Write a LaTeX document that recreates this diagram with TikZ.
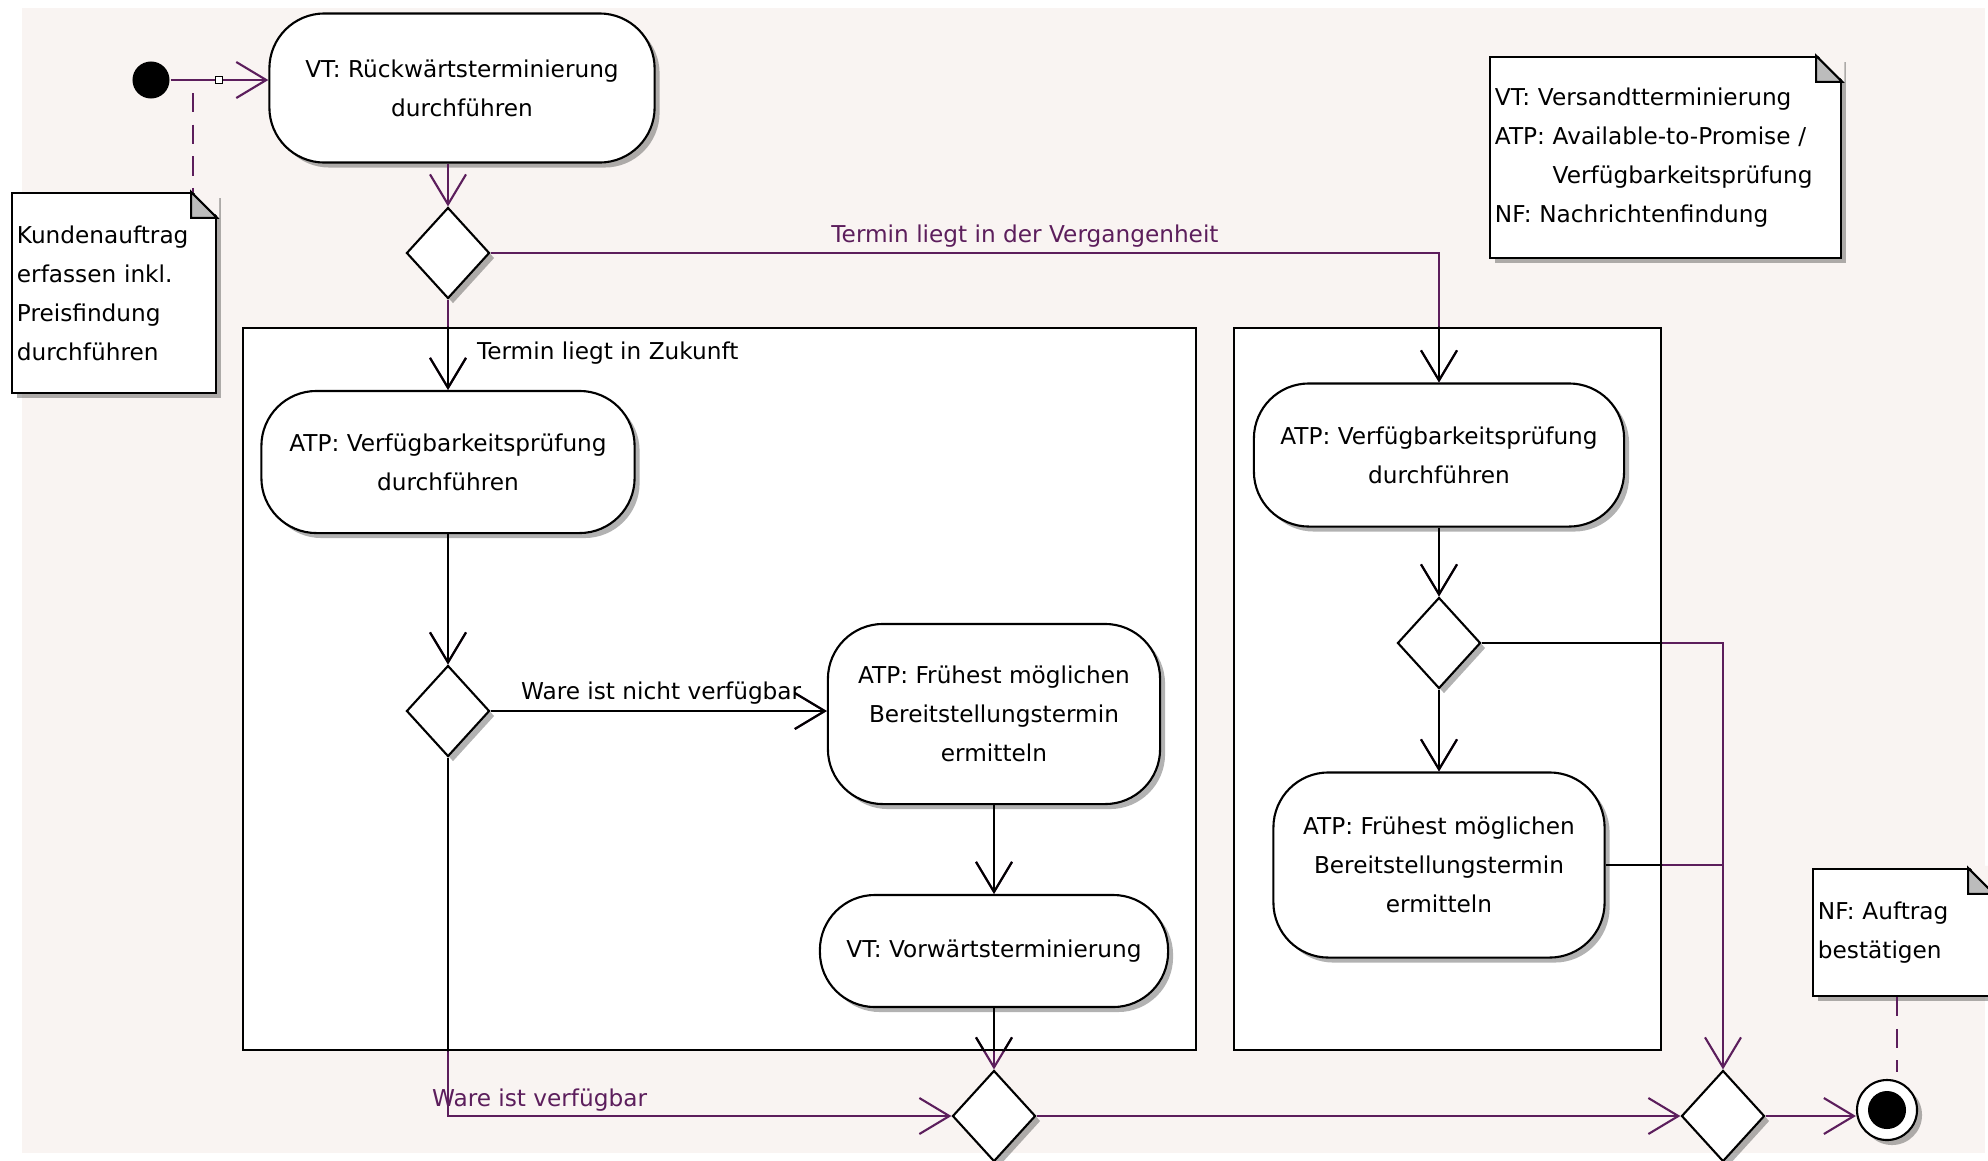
\documentclass[tikz,border=0pt]{standalone}
\usepackage{fontspec}
\setmainfont{DejaVu Sans}
\usetikzlibrary{arrows.meta,shapes.geometric,shadows,positioning}
\definecolor{bgcol}{RGB}{249,244,242}
\definecolor{edgecol}{RGB}{92,30,92}
\definecolor{foldcol}{RGB}{188,188,188}

\newcommand\flowedges{%
  \draw[->] (start) -- (start -| act1.west);
  \draw[->] (act1.south -| dec1) -- (dec1);
  \draw[->] (dec1) -- (atpL);
  \draw[->] (dec1.east) -| (atpR.north);
  \draw[->] (atpL) -- (dec2);
  \draw[->] (dec2.east) -- (dec2.east -| fruehL.west);
  \draw[->] (dec2.south) |- (merge1.west);
  \draw[->] (fruehL) -- (vorw);
  \draw[->] (vorw) -- (merge1);
  \draw[->] (merge1) -- (merge2);
  \draw[->] (atpR) -- (decR);
  \draw[->] (decR) -- (fruehR);
  \draw[->] (decR.east) -| (merge2.north);
  \draw (fruehR.east) -- (fruehR.east -| merge2);
  \draw[->] (merge2.east) -- (merge2.east -| final.west);
}

\begin{document}
\begin{tikzpicture}[x=0.01cm, y=-0.01cm, line width=0.6pt,
  >={Straight Barb[length=0.3cm,width=0.36cm]},
  font=\fontsize{6.6}{11.1}\selectfont,
  castshadow/.style={drop shadow={shadow xshift=0.05cm, shadow yshift=-0.05cm, fill=black, opacity=0.3}},
  act/.style={draw, fill=white, rounded corners=0.55cm, align=center, inner sep=0, castshadow},
  dec/.style={diamond, draw, fill=white, minimum width=0.83cm, minimum height=0.91cm, inner sep=0, castshadow},
  notebox/.style={draw, fill=white, align=left, inner xsep=0.05cm, inner ysep=0, castshadow},
  lane/.style={draw, fill=white, inner sep=0},
  notelink/.style={edgecol, dash pattern=on 5.5pt off 3.5pt},
  lbl/.style={inner sep=0}]
  \useasboundingbox (0,0) rectangle (1988,1160);
  \fill[white] (0,0) rectangle (1988,1160);
  \fill[bgcol] (22,8) rectangle (1985,1153);

  \node[lane, minimum width=9.53cm, minimum height=7.22cm] (lane1) at (719.5,689) {};
  \node[lane, minimum width=4.27cm, minimum height=7.22cm] (lane2) at (1447.5,689) {};

  \node[circle, fill=black, minimum size=0.37cm, inner sep=0] (start) at (151,80) {};
  \node[act, minimum width=3.85cm, minimum height=1.49cm] (act1) at (462,88) {VT: Rückwärtsterminierung\\durchführen};
  \node[dec] (dec1) at (448,253) {};
  \node[act, minimum width=3.73cm, minimum height=1.42cm] (atpL) at (448,462) {ATP: Verfügbarkeitsprüfung\\durchführen};
  \node[dec] (dec2) at (448,711) {};
  \node[act, minimum width=3.32cm, minimum height=1.80cm] (fruehL) at (994,714) {ATP: Frühest möglichen\\Bereitstellungstermin\\ermitteln};
  \node[act, minimum width=3.48cm, minimum height=1.12cm] (vorw) at (994,951) {VT: Vorwärtsterminierung};
  \node[dec] (merge1) at (994,1116) {};
  \node[act, minimum width=3.70cm, minimum height=1.43cm] (atpR) at (1439,455) {ATP: Verfügbarkeitsprüfung\\durchführen};
  \node[dec] (decR) at (1439,643) {};
  \node[act, minimum width=3.31cm, minimum height=1.85cm] (fruehR) at (1439,865) {ATP: Frühest möglichen\\Bereitstellungstermin\\ermitteln};
  \node[dec] (merge2) at (1723,1116) {};
  \node[circle, draw, fill=white, minimum size=0.6cm, inner sep=0, castshadow,
    path picture={\fill[black] (path picture bounding box.center) circle (0.19cm);}] (final) at (1887,1110) {};

  \node[notebox, text width=1.94cm, minimum height=2.0cm] (kunde) at (114,293) {Kundenauftrag\\erfassen inkl.\\Preisfindung\\durchführen};
  \node[notebox, text width=3.41cm, minimum height=2.01cm] (legend) at (1665.5,157.5) {VT: Versandtterminierung\\ATP: Available-to-Promise /\\\phantom{ATP: }Verfügbarkeitsprüfung\\NF: Nachrichtenfindung};
  \node[notebox, text width=1.7cm, minimum height=1.27cm] (nfnote) at (1903,932.5) {NF: Auftrag\\bestätigen};
  \foreach \n in {kunde,legend,nfnote} {
    \fill[bgcol] ([xshift=-0.26cm,yshift=0.6pt]\n.north east) -- ([xshift=0.6pt,yshift=0.6pt]\n.north east)
      -- ([xshift=0.6pt,yshift=-0.26cm]\n.north east) -- cycle;
    \draw[fill=foldcol] ([xshift=-0.26cm]\n.north east) -- ([xshift=-0.26cm,yshift=-0.26cm]\n.north east)
      -- ([yshift=-0.26cm]\n.north east) -- cycle;
  }

  \begin{scope}[edgecol]
    \flowedges
  \end{scope}
  \begin{scope}
    \clip (lane1.north west) rectangle (lane1.south east) (lane2.north west) rectangle (lane2.south east);
    \flowedges
  \end{scope}

  \node[draw, fill=white, minimum size=0.07cm, inner sep=0, line width=0.4pt] (edgemark) at (219,80) {};
  \coordinate (kundepin) at (193,93);
  \draw[notelink] (kundepin) -- (kundepin |- kunde.north);
  \coordinate (nfpin) at (1897,1072);
  \draw[notelink] (nfnote.south -| nfpin) -- (nfpin);

  \node[lbl, text=edgecol, anchor=base] (lblpast) at (1025,242) {Termin liegt in der Vergangenheit};
  \node[lbl, anchor=base west] (lblfuture) at (476,359) {Termin liegt in Zukunft};
  \node[lbl, anchor=base west] (lblnot) at (520,699) {Ware ist nicht verfügbar};
  \node[lbl, text=edgecol, anchor=base west] (lblavail) at (431,1106) {Ware ist verfügbar};
\end{tikzpicture}
\end{document}
